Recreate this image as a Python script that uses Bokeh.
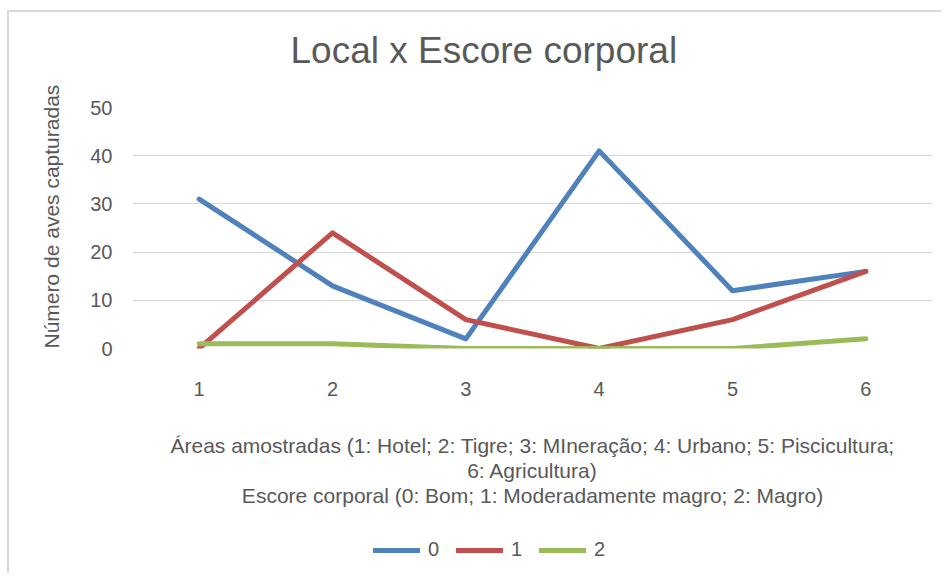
from bokeh.plotting import figure
from bokeh.layouts import column
from bokeh.models import Legend, LegendItem, FixedTicker, Range1d, Title
from bokeh.embed import file_html
from bokeh.resources import INLINE

areas = [1, 2, 3, 4, 5, 6]
escore_0 = [31, 13, 2, 41, 12, 16]
escore_1 = [0, 24, 6, 0, 6, 16]
escore_2 = [1, 1, 0, 0, 0, 2]
series_names = ["0", "1", "2"]
colors = ["#4F81BD", "#C0504D", "#9BBB59"]
y_ticks = [0, 10, 20, 30, 40, 50]

chart_title = "Local x Escore corporal"
y_title = "Número de aves capturadas"
x_title_lines = ["Áreas amostradas (1: Hotel; 2: Tigre; 3: MIneração; 4: Urbano; 5: Piscicultura;",
                 "6: Agricultura)",
                 "Escore corporal (0: Bom; 1: Moderadamente magro; 2: Magro)"]

TXT = "#595959"
FONT = "Liberation Sans"
series = [escore_0, escore_1, escore_2]

p = figure(frame_width=800, frame_height=241, output_backend="svg", toolbar_location=None,
           x_range=Range1d(0.5, 6.5), y_range=Range1d(0, 50))
p.title_location = None
p.min_border_left = 123
p.min_border_right = 9
p.min_border_top = 95
p.min_border_bottom = 0
p.outline_line_color = None


def spacer(s):
    return Title(text=" ", text_font_size="1px", standoff=s)


def text_title(t, size, standoff=0, align="center", offset=0):
    return Title(text=t, text_font=FONT, text_font_size=size, text_font_style="normal",
                 text_color=TXT, standoff=standoff, align=align, offset=offset)


# above: spacer next to frame, then chart title
p.add_layout(spacer(29), "above")
p.add_layout(text_title(chart_title, "37px", standoff=10, align="left", offset=158), "above")

for ys, c in zip(series, colors):
    p.line(areas, ys, line_color=c, line_width=5, line_cap="round", line_join="round")

p.xgrid.grid_line_color = None
p.ygrid.grid_line_color = "#D9D9D9"
p.ygrid.grid_line_width = 1

p.yaxis.ticker = FixedTicker(ticks=y_ticks)
p.xaxis.ticker = FixedTicker(ticks=areas)
for ax in (p.xaxis[0], p.yaxis[0]):
    ax.axis_line_color = None
    ax.major_tick_line_color = None
    ax.minor_tick_line_color = None
    ax.major_tick_out = 0
    ax.major_label_text_font = FONT
    ax.major_label_text_font_size = "20px"
    ax.major_label_text_color = TXT

p.yaxis.major_label_standoff = 20
p.xaxis.major_label_standoff = 33

# left: y title (rotated), starting at the bottom of the plot area
p.add_layout(text_title(y_title, "21px", standoff=50, align="left", offset=0), "left")

# below: x titles
p.add_layout(spacer(30), "below")
for line in x_title_lines:
    p.add_layout(text_title(line, "21px", standoff=0), "below")
p.add_layout(spacer(2), "below")

# legend strip below the chart (its lines lie outside its visible range)
lg = figure(frame_width=800, frame_height=62, output_backend="svg", toolbar_location=None,
            x_range=Range1d(-10, -9), y_range=Range1d(-10, -9),
            x_axis_location=None, y_axis_location=None)
lg.title_location = None
lg.min_border_left = 123
lg.min_border_right = 9
lg.min_border_top = 0
lg.min_border_bottom = 0
lg.outline_line_color = None
lg.grid.visible = False

items = []
for n, ys, c in zip(series_names, series, colors):
    r = lg.line(areas, ys, line_color=c, line_width=5, line_cap="round")
    items.append(LegendItem(label=n, renderers=[r]))

legend = Legend(items=items, orientation="horizontal", location=(241, 12))
legend.label_text_font = FONT
legend.label_text_font_size = "20px"
legend.label_text_color = TXT
legend.glyph_width = 47
legend.glyph_height = 20
legend.label_standoff = 8
legend.spacing = 8
legend.padding = 10
legend.margin = 0
legend.border_line_color = None
legend.background_fill_alpha = 0
lg.add_layout(legend, "center")

layout = column(p, lg, spacing=0)
layout.styles = {"margin-left": "7px", "margin-top": "10px",
                 "border-left": "2px solid #D9D9D9", "border-top": "2px solid #D9D9D9"}

open("out.html", "w").write(file_html(layout, INLINE))
